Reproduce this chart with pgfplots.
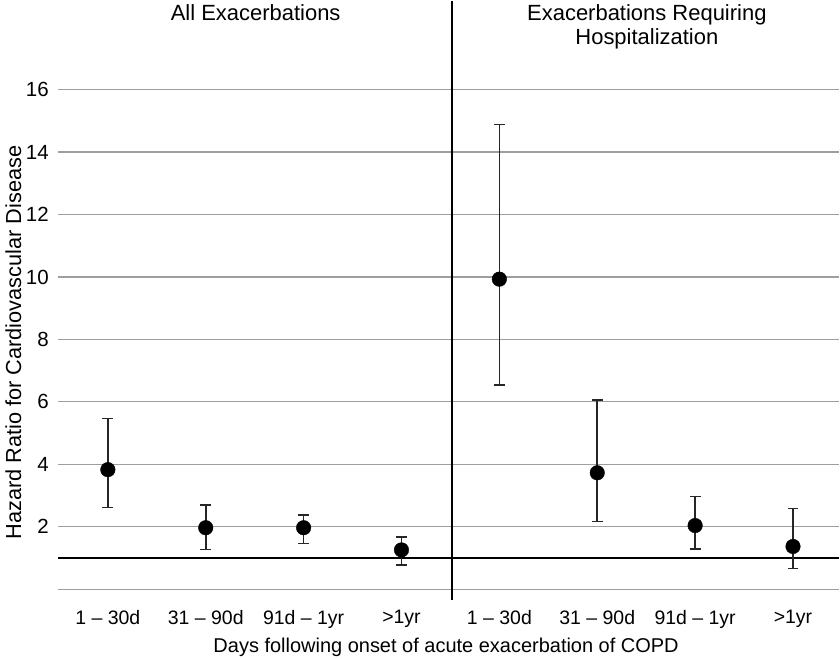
\documentclass[border=0pt]{standalone}
\usepackage{fontspec}
\setmainfont{Liberation Sans}
\usepackage{pgfplots}
\pgfplotsset{compat=1.18}
\usepackage{pgfplotstable}
\pgfplotstableread{
x y ep em
0 3.83 1.64 1.21
1 1.97 0.72 0.70
2 1.97 0.40 0.51
3 1.26 0.42 0.48
4 9.93 4.95 3.39
5 3.73 2.33 1.56
6 2.04 0.93 0.76
7 1.37 1.21 0.70
}\hrdata
\begin{document}
\begin{tikzpicture}
\begin{axis}[
  scale only axis, width=782pt, height=600pt,
  xmin=-0.51, xmax=7.47, ymin=-0.35, ymax=18.84,
  clip=false,
  axis line style={draw=none},
  major tick length=0pt,
  xtick={0,1,2,3,4,5,6,7},
  xticklabels={1 – 30d, 31 – 90d, 91d – 1yr, >1yr, 1 – 30d, 31 – 90d, 91d – 1yr, >1yr},
  ytick={0,2,4,6,8,10,12,14,16},
  yticklabels={{},2,4,6,8,10,12,14,16},
  ymajorgrids, grid style={draw=black!38, line width=1.1pt},
  /pgf/number format/assume math mode=true,
  xticklabel style={font=\fontsize{19.5}{22}\selectfont, inner sep=0pt, anchor=north},
  xticklabel shift=10pt,
  yticklabel style={font=\fontsize{20.5}{22}\selectfont, inner sep=0pt, anchor=east},
  yticklabel shift=9pt,
  xlabel={Days following onset of acute exacerbation of COPD},
  xlabel style={font=\fontsize{20}{22}\selectfont, inner sep=0pt, at={(axis description cs:0.497,0)}, anchor=center, yshift=-47pt},
  ylabel={Hazard Ratio for Cardiovascular Disease},
  ylabel style={font=\fontsize{21.75}{24}\selectfont, inner sep=0pt, at={(axis description cs:-0.057,0.43)}, anchor=center},
]
\addplot[black, line width=2pt, forget plot] coordinates {(-0.51,1) (7.47,1)};
\addplot[black, line width=1.8pt, forget plot] coordinates {(3.52,-0.35) (3.52,18.84)};
\addplot[only marks, mark=*, mark size=7.3pt, black,
  error bars/.cd, y dir=both, y explicit,
  error bar style={line width=1.6pt, color=black!85},
  error mark options={rotate=90, mark size=5.5pt, line width=1.6pt, color=black!85}]
  table[x=x, y=y, y error plus=ep, y error minus=em] {\hrdata};
\node[anchor=base, font=\fontsize{22}{24}\selectfont, inner sep=0pt] at (axis cs:1.51,18.20) {All Exacerbations};
\node[anchor=base, font=\fontsize{22}{24}\selectfont, inner sep=0pt] at (axis cs:5.507,18.20) {Exacerbations Requiring};
\node[anchor=base, font=\fontsize{22}{24}\selectfont, inner sep=0pt] at (axis cs:5.507,17.455) {Hospitalization};
\end{axis}
\path (current axis.south west) ++(-58pt,-58pt);
\path (current axis.north east);
\end{tikzpicture}
\end{document}
